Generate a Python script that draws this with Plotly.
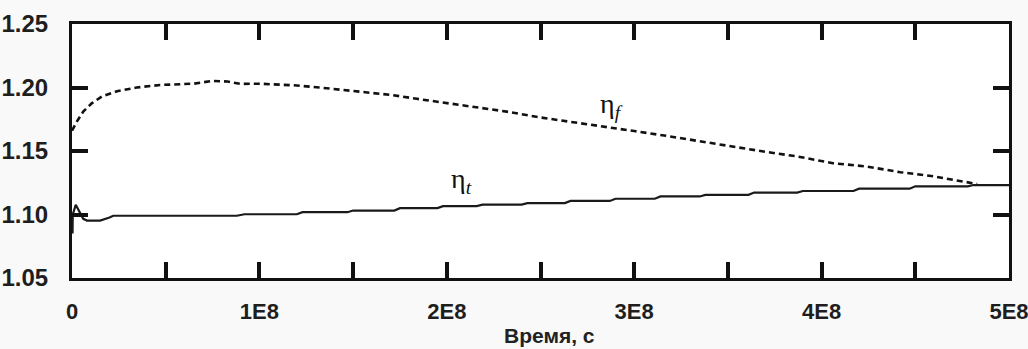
import plotly.graph_objects as go

# ---- data (time in seconds) ----
eta_f_time = [0.0, 0.025e8, 0.06e8, 0.105e8, 0.16e8, 0.24e8, 0.345e8, 0.47e8, 0.65e8,
              0.75e8, 0.83e8, 0.90e8, 1.00e8, 1.20e8, 1.32e8, 1.52e8, 1.70e8, 1.84e8,
              2.00e8, 2.14e8, 2.32e8, 2.50e8, 2.68e8, 2.85e8, 3.00e8, 3.16e8, 3.33e8,
              3.51e8, 3.69e8, 3.87e8, 4.06e8, 4.24e8, 4.42e8, 4.60e8, 4.74e8, 4.83e8]
eta_f = [1.166, 1.173, 1.181, 1.1875, 1.193, 1.197, 1.200, 1.202, 1.203,
         1.2052, 1.2047, 1.2028, 1.2030, 1.2016, 1.2000, 1.1969, 1.1942, 1.1911,
         1.1878, 1.1850, 1.1810, 1.1764, 1.1727, 1.1693, 1.1657, 1.1622, 1.1580,
         1.1535, 1.1496, 1.1457, 1.1404, 1.1378, 1.1333, 1.1300, 1.1260, 1.1240]

eta_t_time = [0.003e8, 0.004e8, 0.02e8, 0.06e8, 0.08e8, 0.15e8, 0.20e8, 0.22e8,
              0.88e8, 0.92e8, 1.20e8, 1.23e8, 1.47e8, 1.50e8, 1.72e8, 1.75e8,
              1.95e8, 1.98e8, 2.16e8, 2.19e8, 2.40e8, 2.43e8, 2.63e8, 2.66e8,
              2.87e8, 2.90e8, 3.11e8, 3.14e8, 3.35e8, 3.38e8, 3.61e8, 3.64e8,
              3.87e8, 3.90e8, 4.17e8, 4.20e8, 4.47e8, 4.50e8, 4.78e8, 4.81e8, 5.00e8]
eta_t = [1.085, 1.100, 1.1076, 1.0966, 1.0952, 1.0952, 1.0976, 1.0990,
         1.0990, 1.1002, 1.1002, 1.1018, 1.1018, 1.1031, 1.1031, 1.1050,
         1.1050, 1.1066, 1.1066, 1.1078, 1.1078, 1.1090, 1.1090, 1.1107,
         1.1107, 1.1124, 1.1124, 1.1142, 1.1142, 1.1155, 1.1155, 1.1173,
         1.1173, 1.1185, 1.1185, 1.1203, 1.1203, 1.1222, 1.1222, 1.1232, 1.1232]

x_range = [0, 5e8]
y_range = [1.05, 1.25]
x_tick_marks = [0, 0.5e8, 1e8, 1.5e8, 2e8, 2.5e8, 3e8, 3.5e8, 4e8, 4.5e8, 5e8]
x_tick_text = ["0", "", "1E8", "", "2E8", "", "3E8", "", "4E8", "", "5E8"]
y_tick_vals = [1.05, 1.10, 1.15, 1.20, 1.25]
y_tick_text = ["1.05", "1.10", "1.15", "1.20", "1.25"]
x_title = "Время, с"
label_f = "η<sub><i>f</i></sub>"
label_t = "η<sub><i>t</i></sub>"
label_f_pos = (2.88e8, 1.1855)
label_t_pos = (2.08e8, 1.1265)

W, H = 1028, 349
M = dict(l=72, r=19, t=24, b=71)
INK = "#111111"

fig = go.Figure()
fig.add_trace(go.Scatter(x=eta_f_time, y=eta_f, mode="lines",
                         line=dict(color="#111111", width=2.6, dash="6px,4px"),
                         showlegend=False))
fig.add_trace(go.Scatter(x=eta_t_time, y=eta_t, mode="lines",
                         line=dict(color="#1a1a1a", width=2.2),
                         showlegend=False))

fig.add_annotation(x=label_f_pos[0], y=label_f_pos[1], text=label_f, showarrow=False,
                   font=dict(family="Liberation Serif", size=28, color="#111"))
fig.add_annotation(x=label_t_pos[0], y=label_t_pos[1], text=label_t, showarrow=False,
                   font=dict(family="Liberation Serif", size=28, color="#111"))
fig.add_annotation(x=0.51, y=-0.228, xref="paper", yref="paper", text=x_title,
                   showarrow=False, yanchor="middle",
                   font=dict(family="Liberation Sans", size=21, color="#222", weight="bold"))

common = dict(showline=True, linecolor=INK, linewidth=3, mirror="allticks",
              ticks="inside", ticklen=16, tickwidth=3.5, tickcolor=INK,
              showgrid=False, zeroline=False, automargin=False)
fig.update_xaxes(range=x_range, tickmode="array", tickvals=x_tick_marks, ticktext=x_tick_text,
                 tickfont=dict(family="Liberation Sans", size=22, color="#1e1e1e", weight="bold"),
                 ticklabeloverflow="allow", ticklabelstandoff=12, **common)
fig.update_yaxes(range=y_range, tickmode="array", tickvals=y_tick_vals, ticktext=y_tick_text,
                 tickfont=dict(family="Liberation Sans", size=24, color="#1e1e1e", weight="bold"),
                 ticklabelstandoff=16, **common)

fig.update_layout(width=W, height=H, margin=M,
                  paper_bgcolor="#f9f9f9", plot_bgcolor="#ffffff",
                  template="none")
fig.write_html("out.html", config={"displayModeBar": False},
               post_script="document.body.style.margin='0';")
